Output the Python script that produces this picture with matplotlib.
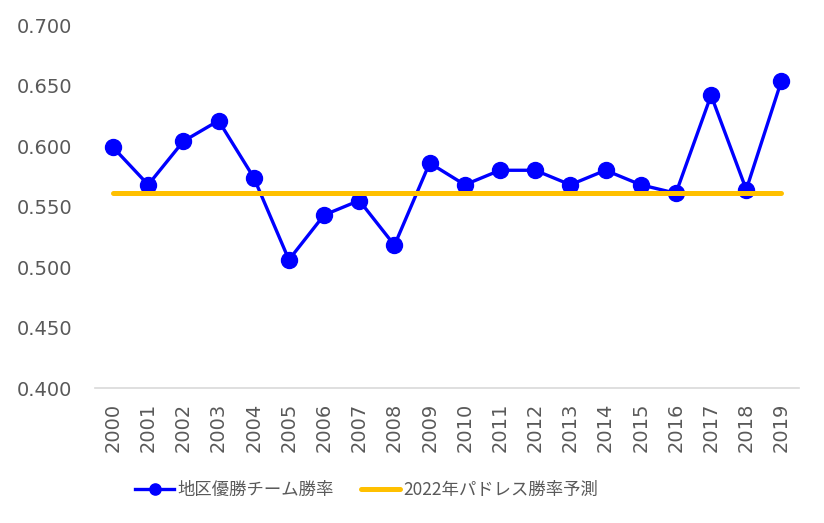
import matplotlib.pyplot as plt
import numpy as np

plt.rcParams['font.family'] = ['DejaVu Sans', 'Noto Sans CJK JP']

# datos
years = [str(y) for y in range(2000, 2020)]
win_rate = [0.599, 0.568, 0.604, 0.621, 0.574, 0.506, 0.543, 0.555, 0.518, 0.586,
            0.568, 0.580, 0.580, 0.568, 0.580, 0.568, 0.561, 0.642, 0.564, 0.654]
padres_2022 = [0.561] * len(years)

gray = '#595959'

fig = plt.figure(figsize=(8.24, 5.23), dpi=100)
ax = fig.add_axes([0.1158, 0.2581, 0.8539, 0.6939])

x = np.arange(len(years))
ax.plot(x, win_rate, color='#0000FF', lw=2.4, marker='o', markersize=11.5,
        label='地区優勝チーム勝率', zorder=2)
ax.plot(x, padres_2022, color='#FFC000', lw=3.6, solid_capstyle='round',
        label='2022年パドレス勝率予測', zorder=3)

ax.set_xlim(-0.5, len(years) - 0.5)
ax.set_ylim(0.4, 0.7)
ax.set_yticks(np.arange(0.4, 0.7001, 0.05))
ax.set_yticklabels(['%.3f' % v for v in np.arange(0.4, 0.7001, 0.05)])
ax.set_xticks(x)
ax.set_xticklabels(years, rotation=90)
ax.tick_params(axis='both', length=0, colors=gray, labelsize=14)
ax.tick_params(axis='y', pad=16.5)
ax.tick_params(axis='x', pad=10.5)

for s in ['top', 'right', 'left']:
    ax.spines[s].set_visible(False)
ax.spines['bottom'].set_color('#D9D9D9')
ax.spines['bottom'].set_linewidth(1.2)

leg = fig.legend(loc='center', bbox_to_anchor=(0.445, 0.063), ncol=2, frameon=False,
                 prop={'family': ['Noto Sans CJK JP', 'DejaVu Sans'], 'size': 12.5},
                 handlelength=2.2, handletextpad=0.2, columnspacing=1.6,
                 markerscale=0.7)
for t in leg.get_texts():
    t.set_color(gray)

fig.savefig('out.png', dpi=100)
